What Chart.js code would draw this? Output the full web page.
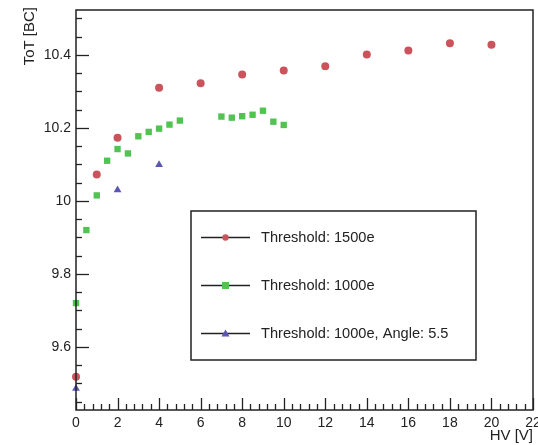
<!DOCTYPE html>
<html>
<head>
<meta charset="utf-8">
<script src="https://cdn.jsdelivr.net/npm/chart.js@4/dist/chart.umd.min.js"></script>
<style>
html,body{margin:0;padding:0;background:#fff;}
#wrap{width:538px;height:445px;position:relative;}
</style>
</head>
<body>
<div id="wrap"><canvas id="c" width="538" height="445"></canvas></div>
<script>
// ---- data ----
const hv1500 = [0, 1, 2, 4, 6, 8, 10, 12, 14, 16, 18, 20];
const tot1500 = [9.518, 10.072, 10.173, 10.310, 10.322, 10.346, 10.357, 10.369, 10.401, 10.412, 10.432, 10.428];

const hv1000 = [0, 0.5, 1, 1.5, 2, 2.5, 3, 3.5, 4, 4.5, 5, 7, 7.5, 8, 8.5, 9, 9.5, 10];
const tot1000 = [9.720, 9.920, 10.015, 10.110, 10.142, 10.130, 10.177, 10.189, 10.198, 10.209, 10.220, 10.231, 10.228, 10.232, 10.236, 10.247, 10.217, 10.208];

const hvAngle = [0, 2, 4];
const totAngle = [9.486, 10.030, 10.099];

const seriesLabels = ["Threshold: 1500e", "Threshold: 1000e", "Threshold: 1000e, Angle: 5.5"];
const xTicks = [0, 2, 4, 6, 8, 10, 12, 14, 16, 18, 20, 22];
const yTicks = [9.6, 9.8, 10, 10.2, 10.4];
const xTitle = "HV [V]";
const yTitle = "ToT [BC]";

function pts(xs, ys){ return xs.map((x,i)=>({x:x, y:ys[i]})); }

const FONT = "Liberation Sans, Arial, Helvetica, sans-serif";
const colors = ["#c9545b", "#50c350", "#5b55b3"];
const shapes = ["circle", "rect", "triangle"];
const sizes = [4, 4.5, 4.5];

// custom plugin: ROOT-style inward ticks, frame, titles, legend box
const rootStyle = {
  id: 'rootStyle',
  afterDraw(chart){
    const ctx = chart.ctx;
    const a = chart.chartArea;
    const xs = chart.scales.x, ys = chart.scales.y;
    ctx.save();
    ctx.strokeStyle = '#222';
    ctx.lineWidth = 1.5;
    // frame
    ctx.strokeRect(a.left, a.top, a.right - a.left, a.bottom - a.top);
    ctx.lineWidth = 1.3;
    // x ticks
    const xmaj = 2, xsub = 5;
    for (let v = xs.min; v <= xs.max + 1e-9; v += xmaj / xsub) {
      const k = Math.round(v / (xmaj / xsub));
      const major = k % xsub === 0;
      const px = Math.round(xs.getPixelForValue(v)) + 0.5;
      const len = major ? 12 : 6;
      ctx.beginPath(); ctx.moveTo(px, a.bottom); ctx.lineTo(px, a.bottom - len); ctx.stroke();
    }
    // y ticks
    const ystep = 0.05;
    const start = Math.ceil(ys.min / ystep - 1e-9);
    const end = Math.floor(ys.max / ystep + 1e-9);
    for (let k = start; k <= end; k++) {
      const v = k * ystep;
      const major = (k % 4) === 0;
      const py = Math.round(ys.getPixelForValue(v)) + 0.5;
      const len = major ? 13 : 6;
      ctx.beginPath(); ctx.moveTo(a.left, py); ctx.lineTo(a.left + len, py); ctx.stroke();
    }
    // axis titles
    ctx.fillStyle = '#222';
    ctx.font = '15px ' + FONT;
    ctx.textAlign = 'right';
    ctx.textBaseline = 'middle';
    ctx.fillText(xTitle, a.right, 436);
    ctx.save();
    ctx.translate(30, 7);
    ctx.rotate(-Math.PI / 2);
    ctx.textAlign = 'right';
    ctx.fillText(yTitle, 0, 0);
    ctx.restore();
    // legend box
    const L = 191, T = 211, R = 476, B = 360;
    ctx.fillStyle = '#fff';
    ctx.fillRect(L, T, R - L, B - T);
    ctx.lineWidth = 1.5;
    ctx.strokeStyle = '#222';
    ctx.strokeRect(L, T, R - L, B - T);
    const rows = [237, 285, 333];
    chart.data.datasets.forEach((ds, i) => {
      const y = rows[i] + 0.5;
      ctx.strokeStyle = '#222';
      ctx.lineWidth = 1.5;
      ctx.beginPath(); ctx.moveTo(201, y); ctx.lineTo(250, y); ctx.stroke();
      ctx.fillStyle = ds.backgroundColor;
      ctx.beginPath();
      if (shapes[i] === 'circle') {
        ctx.arc(225.5, y, 3.2, 0, Math.PI * 2); ctx.fill();
      } else if (shapes[i] === 'rect') {
        ctx.fillRect(222, y - 3.5, 7, 7);
      } else {
        ctx.moveTo(225.5, y - 4); ctx.lineTo(229.5, y + 3); ctx.lineTo(221.5, y + 3); ctx.closePath(); ctx.fill();
      }
      ctx.fillStyle = '#222';
      ctx.font = '14.6px ' + FONT;
      ctx.textAlign = 'left';
      ctx.textBaseline = 'middle';
      ctx.fillText(ds.label, 261, y);
    });
    ctx.restore();
  }
};

const datasets = [
  {label: seriesLabels[0], data: pts(hv1500, tot1500)},
  {label: seriesLabels[1], data: pts(hv1000, tot1000)},
  {label: seriesLabels[2], data: pts(hvAngle, totAngle)}
].map((d, i) => Object.assign(d, {
  backgroundColor: colors[i],
  borderColor: colors[i],
  borderWidth: 0,
  pointStyle: shapes[i],
  pointRadius: sizes[i],
  pointHoverRadius: sizes[i],
  showLine: false,
  clip: false
}));

new Chart(document.getElementById('c'), {
  type: 'scatter',
  data: {datasets: datasets},
  options: {
    responsive: false,
    animation: false,
    devicePixelRatio: 1,
    layout: {padding: {top: 10, right: 5, left: 0, bottom: 0}},
    plugins: {legend: {display: false}, tooltip: {enabled: false}},
    scales: {
      x: {
        type: 'linear', min: 0, max: 22,
        grid: {display: false, drawTicks: false},
        border: {display: false},
        afterBuildTicks: s => { s.ticks = xTicks.map(v => ({value: v})); },
        afterFit: s => { s.height = 35; s.paddingLeft = 0; s.paddingRight = 0; },
        ticks: {
          padding: 5, color: '#222', maxRotation: 0, autoSkip: false,
          font: {size: 14, family: FONT},
          callback: v => String(v)
        }
      },
      y: {
        type: 'linear', min: 9.427, max: 10.523,
        grid: {display: false, drawTicks: false},
        border: {display: false},
        afterBuildTicks: s => { s.ticks = yTicks.map(v => ({value: v})); },
        afterFit: s => { s.width = 76; s.paddingTop = 0; s.paddingBottom = 0; },
        ticks: {
          padding: 5, color: '#222', autoSkip: false,
          font: {size: 14, family: FONT},
          callback: v => String(Math.round(v * 10) / 10)
        }
      }
    }
  },
  plugins: [rootStyle]
});
</script>
</body>
</html>
